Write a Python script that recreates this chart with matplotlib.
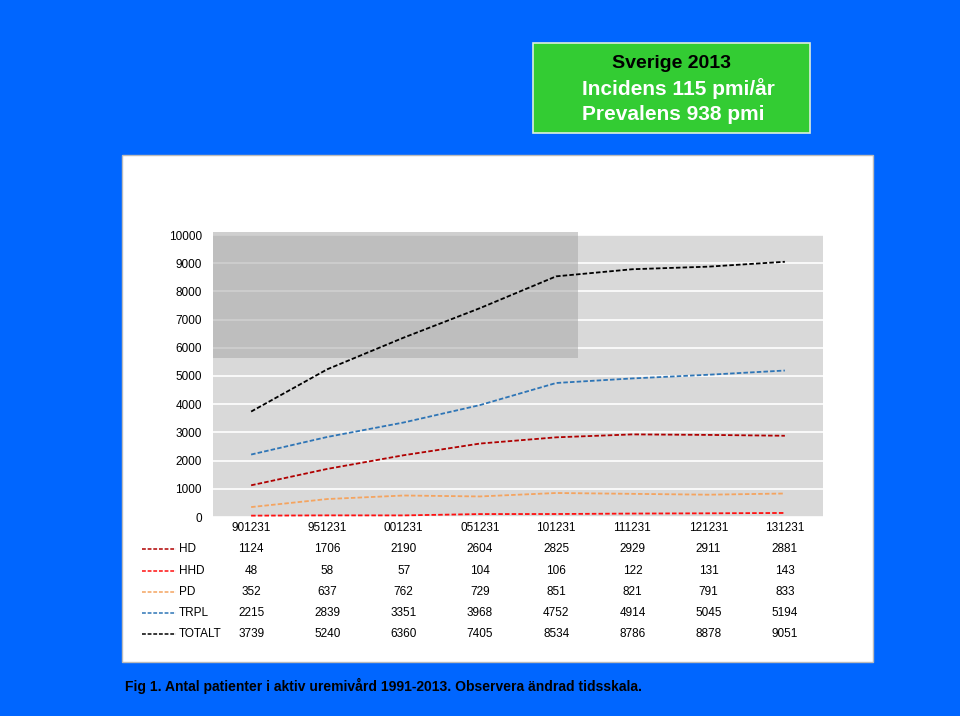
import matplotlib.pyplot as plt
from matplotlib.patches import Rectangle
from matplotlib.lines import Line2D

plt.rcParams['font.family'] = ['Liberation Sans Narrow', 'Liberation Sans', 'DejaVu Sans']

# data
dates = ['901231', '951231', '001231', '051231', '101231', '111231', '121231', '131231']
series_names = ['HD', 'HHD', 'PD', 'TRPL', 'TOTALT']
hd = [1124, 1706, 2190, 2604, 2825, 2929, 2911, 2881]
hhd = [48, 58, 57, 104, 106, 122, 131, 143]
pd_vals = [352, 637, 762, 729, 851, 821, 791, 833]
trpl = [2215, 2839, 3351, 3968, 4752, 4914, 5045, 5194]
totalt = [3739, 5240, 6360, 7405, 8534, 8786, 8878, 9051]
yticks = [0, 1000, 2000, 3000, 4000, 5000, 6000, 7000, 8000, 9000, 10000]

values = [hd, hhd, pd_vals, trpl, totalt]
colors = ['#B00000', '#FF1010', '#F4A460', '#2E75B6', '#000000']

W, H = 960, 716
def fx(x):
    return x / W
def fy(y):
    return 1 - y / H

fig = plt.figure(figsize=(9.6, 7.16), dpi=100, facecolor='#0066FF')

# white panel behind the chart
fig.patches.append(Rectangle((fx(122), fy(662)), fx(873) - fx(122), fy(155) - fy(662),
                             transform=fig.transFigure, facecolor='white',
                             edgecolor='#BBBBBB', linewidth=1, zorder=-2))

# title box
fig.patches.append(Rectangle((fx(533), fy(133)), fx(810) - fx(533), fy(43) - fy(133),
                             transform=fig.transFigure, facecolor='#33CC33',
                             edgecolor='#DDEEDD', linewidth=1.2, zorder=-2))
fig.text(fx(671), fy(64), 'Sverige 2013', ha='center', va='center', fontsize=14,
         fontweight='bold', color='black', family='Liberation Sans')
fig.text(fx(678), fy(89), 'Incidens 115 pmi/år', ha='center', va='center', fontsize=15,
         fontweight='bold', color='white', family='Liberation Sans')
fig.text(fx(673), fy(115), 'Prevalens 938 pmi', ha='center', va='center', fontsize=15,
         fontweight='bold', color='white', family='Liberation Sans')

# plot area
ax = fig.add_axes([fx(213), fy(517), fx(823) - fx(213), fy(235) - fy(517)])
ax.set_zorder(1)
ax.set_facecolor('#D9D9D9')
ax.set_xlim(-0.5, len(dates) - 0.5)
ax.set_ylim(0, 10000)
ax.set_yticks(yticks)
ax.set_yticklabels([str(v) for v in yticks], fontsize=8.5)
ax.tick_params(axis='y', length=0, pad=8)
ax.set_xticks([])
for s in ax.spines.values():
    s.set_visible(False)
ax.grid(True, axis='y', color='white', linewidth=1.2)
ax.set_axisbelow(True)

# darker shaded region (old time scale)
ax.add_patch(Rectangle((-0.5, 5650), 4.79, 4450, facecolor='#A8A8A8', alpha=0.55,
                       edgecolor='none', zorder=1, clip_on=False))

x = range(len(dates))
for vals, c in zip(values, colors):
    ax.plot(x, vals, color=c, linestyle=(0, (2.5, 1.2)), linewidth=1.3, zorder=3)

# data table below the plot
row_y = [549, 571, 592, 613, 634]
xpix = [213 + 76.25 * (i + 0.5) for i in range(len(dates))]
for xp, d in zip(xpix, dates):
    fig.text(fx(xp), fy(528), d, ha='center', va='center', fontsize=8.5)
for name, vals, c, yp in zip(series_names, values, colors, row_y):
    fig.lines.append(Line2D([fx(142), fx(176)], [fy(yp), fy(yp)], transform=fig.transFigure,
                            color=c, linestyle=(0, (2.5, 1.2)), linewidth=1.1))
    fig.text(fx(179), fy(yp), name, ha='left', va='center', fontsize=8.5)
    for xp, v in zip(xpix, vals):
        fig.text(fx(xp), fy(yp), str(v), ha='center', va='center', fontsize=8.5)

# caption
fig.text(fx(125), fy(686), 'Fig 1. Antal patienter i aktiv uremivård 1991-2013. Observera ändrad tidsskala.',
         ha='left', va='center', fontsize=10, fontweight='bold', color='black')

fig.savefig('out.png', dpi=100, facecolor=fig.get_facecolor())
